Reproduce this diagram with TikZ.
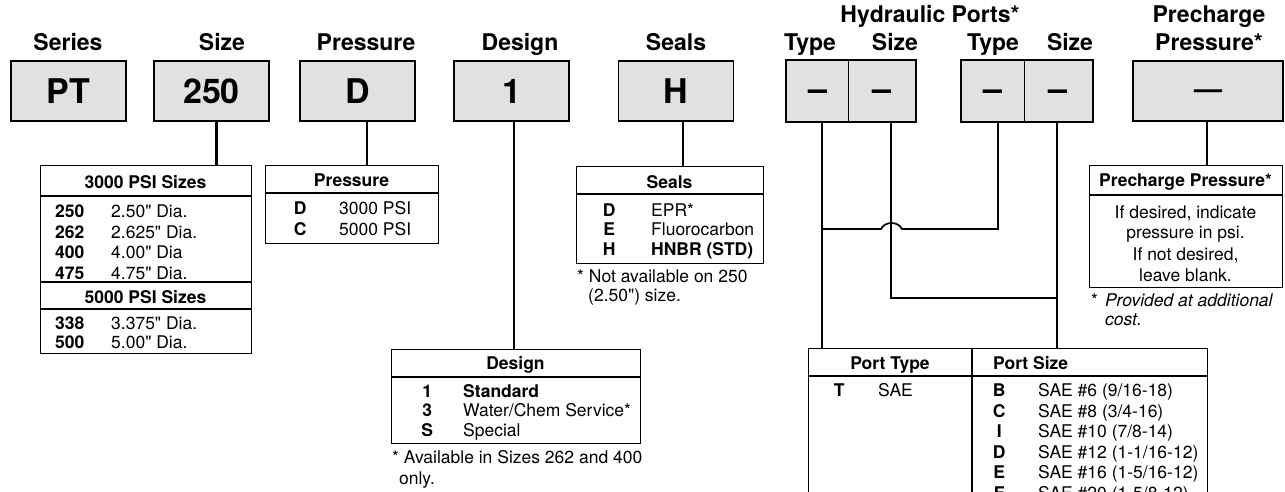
\documentclass[tikz,border=0pt]{standalone}
\usepackage{fontspec}
\setmainfont{TeX Gyre Heros}[Ligatures=TeXOff]
\usepackage{tikz}
\definecolor{boxgray}{RGB}{224,225,227}

\begin{document}
\begin{tikzpicture}[x=1pt, y=-1pt,
    head/.style={font=\bfseries\fontsize{23}{25}\selectfont, inner sep=0, anchor=base},
    codebox/.style={draw, line width=1.7pt, fill=boxgray, minimum width=115pt, minimum height=60pt, inner sep=0, font=\bfseries\fontsize{34}{36}\selectfont},
    halfbox/.style={codebox, draw=none, text height=19pt, text depth=0pt},
    link/.style={line width=1.7pt},
    tbl/.style={draw, line width=1.2pt, inner sep=0, anchor=north west},
    sepline/.style={line width=2.6pt},
    txt/.style={font=\fontsize{17.5}{20.5}\selectfont, inner sep=0, anchor=base west},
    ttl/.style={font=\bfseries\fontsize{17.5}{20.5}\selectfont, inner sep=0, anchor=base}]
        \useasboundingbox (0,0) rectangle (1285,492);

        % headings
        \node[head] (hser) at (68,51) {Series};
        \node[head] (hsize) at (222,51) {Size};
        \node[head] (hpres) at (366,51) {Pressure};
        \node[head] (hdes) at (520,51) {Design};
        \node[head] (hseal) at (676,51) {Seals};
        \node[head] (hhyd) at (930,23) {Hydraulic Ports*};
        \node[head] (hty1) at (810,51) {Type};
        \node[head] (hsz1) at (895,51) {Size};
        \node[head] (hty2) at (993,51) {Type};
        \node[head] (hsz2) at (1070,51) {Size};
        \node[head] (hpc1) at (1209,23) {Precharge};
        \node[head] (hpc2) at (1209,51) {Pressure*};

        % code boxes
        \node[codebox] (pt) at (68.5,91) {PT};
        \node[codebox] (sz) at (211.5,91) {250};
        \node[codebox] (pr) at (357.5,91) {D};
        \node[codebox] (ds) at (511.5,91) {1};
        \node[codebox] (sl) at (676,91) {H};
        \node[halfbox, minimum width=61pt] (ht1) at (817.5,91) {–};
        \node[halfbox, minimum width=67pt] (hs1) at (881.5,91) {–};
        \node[halfbox, minimum width=62pt] (ht2) at (993,91) {–};
        \node[halfbox, minimum width=68pt] (hs2) at (1058,91) {–};
        \draw[line width=1.7pt] (ht1.north west) rectangle (hs1.south east);
        \draw[line width=0.9pt] (ht1.north east) -- (ht1.south east);
        \draw[line width=1.7pt] (ht2.north west) rectangle (hs2.south east);
        \draw[line width=0.9pt] (ht2.north east) -- (ht2.south east);
        \node[codebox, minimum width=150pt, text height=16pt, text depth=0pt, font=\bfseries\fontsize{28}{30}\selectfont] (pc) at (1208,91) {—};

        % size table
        \node[tbl, minimum width=211pt, minimum height=188pt] (tsz) at (40,165) {};
        \draw[sepline] ([yshift=-31pt]tsz.north west) -- ([yshift=-31pt]tsz.north east);
        \draw[sepline] ([yshift=-117pt]tsz.north west) -- ([yshift=-117pt]tsz.north east);
        \draw[sepline] ([yshift=-144pt]tsz.north west) -- ([yshift=-144pt]tsz.north east);
        \node[ttl] (tsz1) at (145.5,188) {3000 PSI Sizes};
        \node[txt] (r250) at (55,217) {\makebox[56pt][l]{\bfseries 250}2.50" Dia.};
        \node[txt] (r262) at (55,238) {\makebox[56pt][l]{\bfseries 262}2.625" Dia.};
        \node[txt] (r400) at (55,258.5) {\makebox[56pt][l]{\bfseries 400}4.00" Dia};
        \node[txt] (r475) at (55,279) {\makebox[56pt][l]{\bfseries 475}4.75" Dia.};
        \node[ttl] (tsz2) at (145.5,303) {5000 PSI Sizes};
        \node[txt] (r338) at (55,329) {\makebox[56pt][l]{\bfseries 338}3.375" Dia.};
        \node[txt] (r500) at (55,348) {\makebox[56pt][l]{\bfseries 500}5.00" Dia.};

        % pressure table
        \node[tbl, minimum width=173pt, minimum height=78pt] (tpr) at (265,165) {};
        \draw[sepline] ([yshift=-28pt]tpr.north west) -- ([yshift=-28pt]tpr.north east);
        \node[ttl] (tpr1) at (351.5,186) {Pressure};
        \node[txt] (prd) at (286,214) {\makebox[28pt]{\bfseries D}\hspace{25pt}3000 PSI};
        \node[txt] (prc) at (286,235) {\makebox[28pt]{\bfseries C}\hspace{25pt}5000 PSI};

        % seals table
        \node[tbl, minimum width=187pt, minimum height=97pt] (tsl) at (576,166) {};
        \draw[sepline] ([yshift=-28pt]tsl.north west) -- ([yshift=-28pt]tsl.north east);
        \node[ttl] (tsl1) at (669.5,188) {Seals};
        \node[txt] (sld) at (595,216) {\makebox[28pt]{\bfseries D}\hspace{28pt}EPR*};
        \node[txt] (sle) at (595,235.5) {\makebox[28pt]{\bfseries E}\hspace{28pt}Fluorocarbon};
        \node[txt] (slh) at (595,255.5) {\makebox[28pt]{\bfseries H}\hspace{28pt}\bfseries HNBR (STD)};
        \node[txt] (slf1) at (577,282.5) {* Not available on 250};
        \node[txt] (slf2) at (588,301.5) {(2.50") size.};

        % design table
        \node[tbl, minimum width=249pt, minimum height=94pt] (tds) at (391,349) {};
        \draw[sepline] ([yshift=-28pt]tds.north west) -- ([yshift=-28pt]tds.north east);
        \node[ttl] (tds1) at (515.5,369) {Design};
        \node[txt] (ds1) at (413,397) {\makebox[28pt]{\bfseries 1}\hspace{22pt}\bfseries Standard};
        \node[txt] (ds3) at (413,416.5) {\makebox[28pt]{\bfseries 3}\hspace{22pt}Water/Chem Service*};
        \node[txt] (dss) at (413,436.5) {\makebox[28pt]{\bfseries S}\hspace{22pt}Special};
        \node[txt] (dsf1) at (392,463.5) {* Available in Sizes 262 and 400};
        \node[txt] (dsf2) at (399,484) {only.};

        % precharge table
        \node[tbl, minimum width=193pt, minimum height=122pt] (tpc) at (1089,165) {};
        \draw[sepline] ([yshift=-30pt]tpc.north west) -- ([yshift=-30pt]tpc.north east);
        \node[ttl] (tpc1) at (1185.5,186) {Precharge Pressure*};
        \node[txt, anchor=base] (pcl1) at (1185.5,218) {If desired, indicate};
        \node[txt, anchor=base] (pcl2) at (1185.5,238.5) {pressure in psi.};
        \node[txt, anchor=base] (pcl3) at (1185.5,260) {If not desired,};
        \node[txt, anchor=base] (pcl4) at (1185.5,281) {leave blank.};
        \node[txt] (pcf1) at (1091,306.5) {*\hspace{7pt}\itshape Provided at additional};
        \node[txt] (pcf2) at (1105,325.5) {\itshape cost.};

        % port table
        \node[tbl, minimum width=399pt, minimum height=200pt] (tpt) at (808,348) {};
        \draw[sepline] ([yshift=-28pt]tpt.north west) -- ([yshift=-28pt]tpt.north east);
        \draw[sepline] ([xshift=164pt]tpt.north west) -- ([xshift=164pt]tpt.south west);
        \node[ttl] (tpt1) at (890,369) {Port Type};
        \node[ttl, anchor=base west] (tpt2) at (993,369) {Port Size};
        \node[txt] (ptt) at (832,396.5) {\makebox[14pt]{\bfseries T}\hspace{32pt}SAE};
        \node[txt] (psb) at (990,396.5) {\makebox[18pt]{\bfseries B}\hspace{30pt}SAE \#6 (9/16-18)};
        \node[txt] (psc) at (990,417) {\makebox[18pt]{\bfseries C}\hspace{30pt}SAE \#8 (3/4-16)};
        \node[txt] (psi) at (990,437.5) {\makebox[18pt]{\bfseries I}\hspace{30pt}SAE \#10 (7/8-14)};
        \node[txt] (psd) at (990,458) {\makebox[18pt]{\bfseries D}\hspace{30pt}SAE \#12 (1-1/16-12)};
        \node[txt] (pse) at (990,478.5) {\makebox[18pt]{\bfseries E}\hspace{30pt}SAE \#16 (1-5/16-12)};
        \node[txt] (psf) at (990,499) {\makebox[18pt]{\bfseries F}\hspace{30pt}SAE \#20 (1-5/8-12)};

        % connectors
        \draw[link, line width=2.4pt] ([xshift=5pt]sz.south) -- ([xshift=5pt]sz.south |- tsz.north);
        \draw[link] ([xshift=9.5pt]pr.south) -- ([xshift=9.5pt]pr.south |- tpr.north);
        \draw[link] ([xshift=2.5pt]ds.south) -- ([xshift=2.5pt]ds.south |- tds.north);
        \draw[link] ([xshift=7pt]sl.south) -- ([xshift=7pt]sl.south |- tsl.north);
        \draw[link, line width=2.4pt] ([xshift=-1pt]pc.south) -- ([xshift=-1pt]pc.south |- tpc.north);
        \draw[link] ([xshift=4.5pt]ht1.south) -- ([xshift=4.5pt]ht1.south |- tpt.north);
        \draw[link] ([xshift=-1pt]hs2.south) -- ([xshift=-1pt]hs2.south |- tpt.north);
        \coordinate (lvlA) at (0,229);
        \coordinate (lvlB) at (0,298);
        \draw[link] ([xshift=5pt]ht2.south) |- ([xshift=20.5pt]hs1.south |- lvlA)
            .. controls +(-4,-8) and +(4,-8) .. ([xshift=-0.5pt]hs1.south |- lvlA)
            -- ([xshift=4.5pt]ht1.south |- lvlA);
        \draw[link] ([xshift=9.5pt]hs1.south) |- ([xshift=-1pt]hs2.south |- lvlB);
      \end{tikzpicture}
\end{document}
